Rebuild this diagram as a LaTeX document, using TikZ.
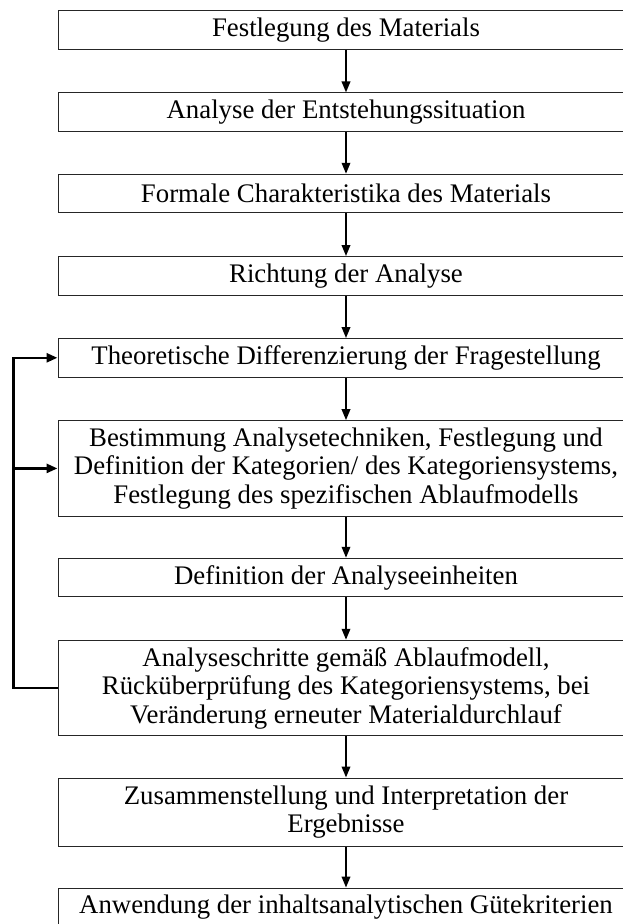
\documentclass[tikz,border=0pt]{standalone}
\usepackage{fontspec}
\setmainfont{Liberation Serif}
\usetikzlibrary{arrows.meta}

\begin{document}
\begin{tikzpicture}[x=1pt, y=-1pt,
  stepbox/.style={draw=black!85, line width=1pt, rectangle, inner sep=0pt,
    minimum width=576pt, align=center,
    font={\fontsize{26.8pt}{28.5pt}\selectfont}},
  one/.style={minimum height=38.5pt},
  two/.style={minimum height=68pt},
  three/.style={minimum height=95.5pt},
  flow/.style={line width=2pt, -{Triangle[width=8.5pt,length=11pt]}},
  fbline/.style={line width=2.6pt},
  fbarrow/.style={line width=2.6pt, -{Triangle[width=9pt,length=11pt]}}]

\useasboundingbox (0,0) rectangle (623,924);

% main chain of steps
\node[stepbox, one]   (b1)  at (346, 30.2)  {Festlegung des Materials};
\node[stepbox, one]   (b2)  at (346, 112.2) {Analyse der Entstehungssituation};
\node[stepbox, one]   (b3)  at (346, 193.5) {Formale Charakteristika des Materials};
\node[stepbox, one]   (b4)  at (346, 275.8) {Richtung der Analyse};
\node[stepbox, one]   (b5)  at (346, 357.8) {Theoretische Differenzierung der Fragestellung};
\node[stepbox, three] (b6)  at (346, 468.4) {Bestimmung Analysetechniken, Festlegung und\\
  Definition der Kategorien/ des Kategoriensystems,\\
  Festlegung des spezifischen Ablaufmodells};
\node[stepbox, one]   (b7)  at (346, 577.5) {Definition der Analyseeinheiten};
\node[stepbox, three] (b8)  at (346, 688)   {Analyseschritte gemäß Ablaufmodell,\\
  Rücküberprüfung des Kategoriensystems, bei\\
  Veränderung erneuter Materialdurchlauf};
\node[stepbox, two]   (b9)  at (346, 812)   {Zusammenstellung und Interpretation der\\
  Ergebnisse};
\node[stepbox, one]   (b10) at (346, 907.3) {Anwendung der inhaltsanalytischen Gütekriterien};

% downward arrows
\foreach \a/\b in {b1/b2, b2/b3, b3/b4, b4/b5, b5/b6, b6/b7, b7/b8, b8/b9, b9/b10}
  \draw[flow] (\a.south) -- (\b.north);

% feedback loop on the left
\coordinate (fbx) at (13.5, 0);
\draw[fbarrow] (b8.west) -- (b8.west -| fbx) |- (b5.west);
\draw[fbarrow] (b6.west -| fbx) -- (b6.west);

\end{tikzpicture}
\end{document}
